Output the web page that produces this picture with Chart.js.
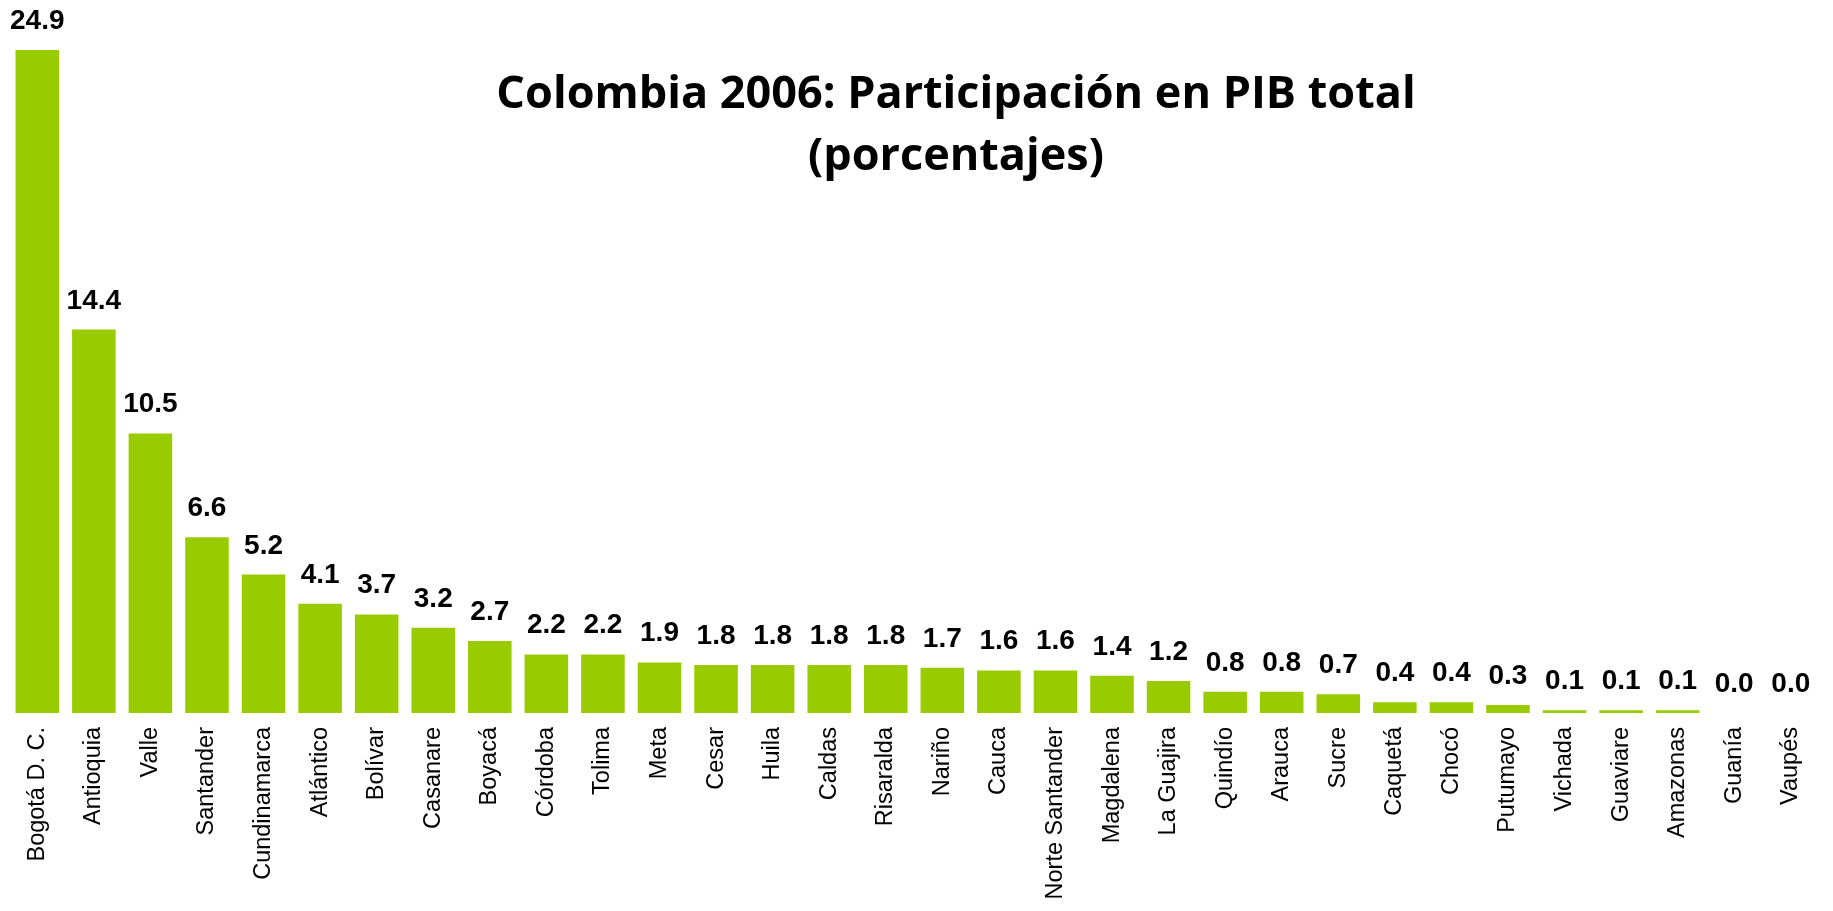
<!DOCTYPE html>
<html>
<head>
<meta charset="utf-8">
<script src="https://cdn.jsdelivr.net/npm/chart.js@4/dist/chart.umd.min.js"></script>
<style>
  html, body { margin: 0; padding: 0; background: #fff; }
  #wrap { width: 1833px; height: 911px; position: relative; }
</style>
</head>
<body>
<div id="wrap"><canvas id="graph"></canvas></div>
<script>
var departamentos = ['Bogotá D. C.', 'Antioquia', 'Valle', 'Santander', 'Cundinamarca', 'Atlántico',
  'Bolívar', 'Casanare', 'Boyacá', 'Córdoba', 'Tolima', 'Meta', 'Cesar', 'Huila', 'Caldas',
  'Risaralda', 'Nariño', 'Cauca', 'Norte Santander', 'Magdalena', 'La Guajira', 'Quindío',
  'Arauca', 'Sucre', 'Caquetá', 'Chocó', 'Putumayo', 'Vichada', 'Guaviare', 'Amazonas',
  'Guanía', 'Vaupés'];
var participacion = [24.9, 14.4, 10.5, 6.6, 5.2, 4.1, 3.7, 3.2, 2.7, 2.2, 2.2, 1.9, 1.8, 1.8, 1.8,
  1.8, 1.7, 1.6, 1.6, 1.4, 1.2, 0.8, 0.8, 0.7, 0.4, 0.4, 0.3, 0.1, 0.1, 0.1, 0.0, 0.0];
var titleLines = ['Colombia 2006: Participación en PIB total', '(porcentajes)'];

// values above the bars
var valueLabels = {
  id: 'valueLabels',
  afterDatasetsDraw: function(chart) {
    var ctx = chart.ctx;
    var meta = chart.getDatasetMeta(0);
    ctx.save();
    ctx.font = 'bold 28px "Liberation Sans", Arial, sans-serif';
    ctx.fillStyle = '#000';
    ctx.textAlign = 'center';
    ctx.textBaseline = 'alphabetic';
    meta.data.forEach(function(bar, i) {
      ctx.fillText(participacion[i].toFixed(1), bar.x, bar.y - 21);
    });
    ctx.restore();
  }
};

// title sits inside the plot, a bit right of center
var titleText = {
  id: 'titleText',
  afterDraw: function(chart) {
    var ctx = chart.ctx;
    ctx.save();
    ctx.font = 'bold 45px "Open Sans", sans-serif';
    ctx.fillStyle = '#000';
    ctx.textAlign = 'center';
    ctx.textBaseline = 'alphabetic';
    ctx.fillText(titleLines[0], 956, 108);
    ctx.fillText(titleLines[1], 956, 170);
    ctx.restore();
  }
};

var g = document.getElementById('graph').getContext('2d');
var graph = new Chart(g, {
  type: 'bar',
  data: {
    labels: departamentos,
    datasets: [{
      data: participacion,
      backgroundColor: '#99CC00',
      borderWidth: 0,
      barPercentage: 0.77,
      categoryPercentage: 1.0
    }]
  },
  options: {
    responsive: true,
    maintainAspectRatio: false,
    animation: false,
    layout: { padding: { top: 50, left: 9, right: 0, bottom: 0 } },
    plugins: {
      legend: { display: false },
      title: { display: false },
      tooltip: { enabled: false }
    },
    scales: {
      x: {
        grid: { display: false, drawTicks: false },
        border: { display: false },
        ticks: {
          autoSkip: false,
          maxRotation: 90,
          minRotation: 90,
          padding: 14,
          color: '#000',
          font: { family: '"Liberation Sans", Arial, sans-serif', size: 23.5 }
        },
        afterFit: function(scale) { scale.height = 198; }
      },
      y: {
        display: false,
        min: 0,
        max: 24.9
      }
    }
  },
  plugins: [valueLabels, titleText]
});
</script>
</body>
</html>
